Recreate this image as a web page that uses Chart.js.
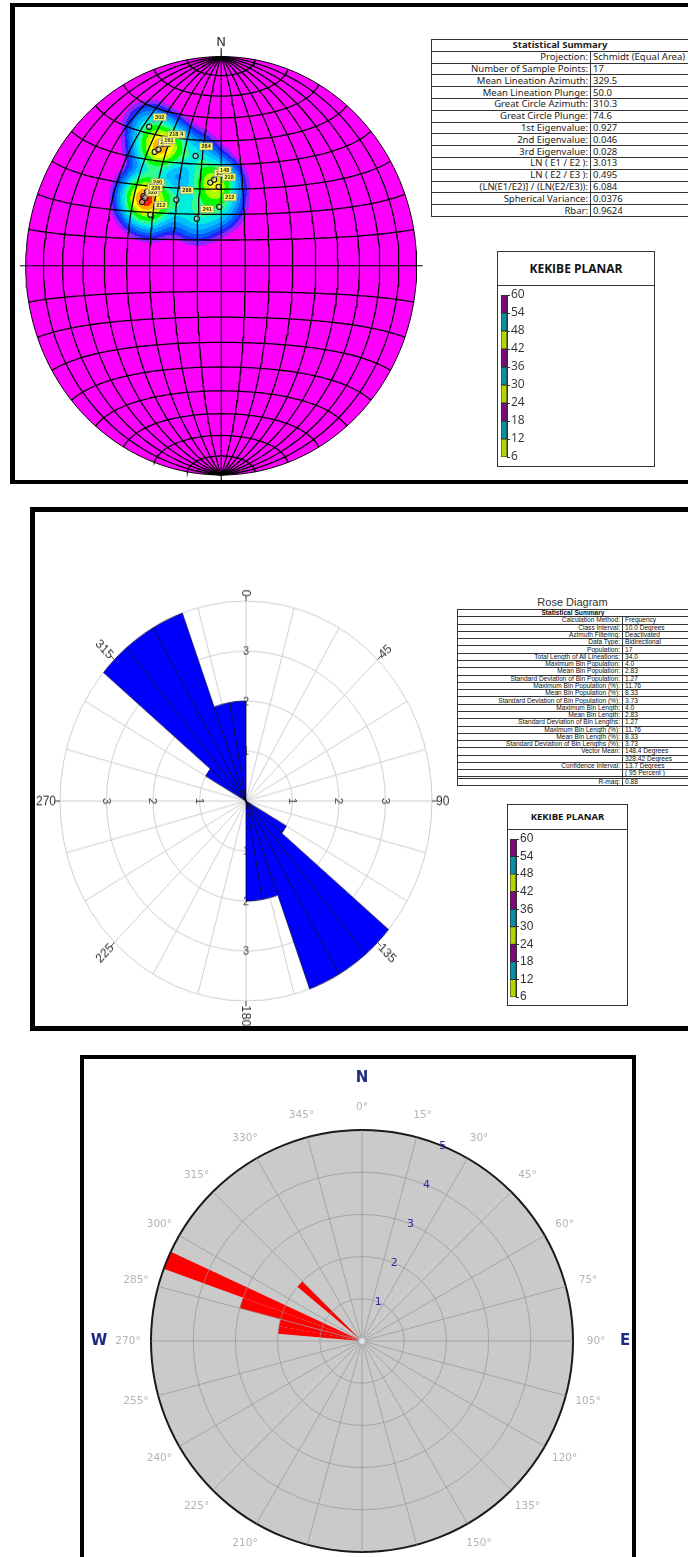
<!DOCTYPE html>
<html lang="en">
<head>
<meta charset="utf-8">
<title>KEKIBE PLANAR – orientation analysis</title>
<script src="https://cdn.jsdelivr.net/npm/chart.js@4.4.1/dist/chart.umd.min.js"></script>
<style>
  html, body { margin: 0; padding: 0; background: #fff; }
  body { position: relative; width: 688px; height: 1557px; overflow: hidden;
         font-family: "Liberation Sans", Arial, sans-serif; color: #222; }
  .frame { position: absolute; box-sizing: border-box; border: solid #000; }
  canvas { position: absolute; display: block; }
  table.stats { position: absolute; border-collapse: collapse; table-layout: fixed; background: #fff; }
  table.stats td { border: 1px solid #333; padding: 0 2px; white-space: nowrap; overflow: hidden; }
  table.stats td.k { text-align: right; }
  table.stats td.v { text-align: left; }
  table.stats tr.h td { text-align: center; font-weight: bold; }
  .legend { position: absolute; border: 1px solid #333; box-sizing: border-box; background: #fff; }
  .legend .ttl { border-bottom: 1px solid #333; text-align: center; font-weight: bold; box-sizing: border-box;
                 font-family: "Open Sans", "Noto Sans", sans-serif; color: #111; }
  .caption { position: absolute; text-align: center; }
</style>
</head>
<body>
<div class="frame" style="left:10px;top:3px;width:700px;height:481px;border-width:4px 0 4px 5px;"></div>
<div class="frame" style="left:30px;top:507px;width:680px;height:524px;border-width:5px 0 5px 5px;"></div>
<div class="frame" style="left:80px;top:1055px;width:556px;height:520px;border-width:4px 4px 0 4px;"></div>

<table id="netSummary" class="stats" style="left:431px;top:39px;width:258px;height:178px;font-family:'Noto Sans','Open Sans',sans-serif;font-size:9.5px;line-height:10px;"></table>
<div class="legend" style="left:497px;top:251px;width:158px;height:216px;">
  <div class="ttl" style="height:34px;line-height:33px;font-size:12px;">KEKIBE PLANAR</div>
</div>
<canvas id="stereonet" width="414" height="449" style="left:16px;top:36px;"></canvas>
<canvas id="barTop" width="31" height="180" style="left:500px;top:286px;"></canvas>

<div class="caption" style="left:457px;top:596px;width:231px;font-size:11px;line-height:13px;color:#333;">Rose Diagram</div>
<table id="roseSummary" class="stats" style="left:457px;top:609px;width:232px;height:177px;font-size:6.6px;line-height:6px;color:#111;"></table>
<div class="legend" style="left:507px;top:804px;width:121px;height:202px;">
  <div class="ttl" style="height:25px;line-height:24px;font-size:9.5px;">KEKIBE PLANAR</div>
</div>
<canvas id="roseMid" width="460" height="460" style="left:16px;top:571px;transform:scaleY(1.075);transform-origin:230px 230px;"></canvas>
<canvas id="barMid" width="31" height="176" style="left:509px;top:830px;"></canvas>

<canvas id="roseBot" width="580" height="580" style="left:72px;top:1051px;"></canvas>

<script>
// ---------------- Schmidt net: lineations (trend / plunge in degrees) ----------------
const sampleTrend  = [331, 328, 335, 330, 346, 313, 310, 307, 310, 304, 324, 331, 352, 355, 358, 358, 333];
const samplePlunge = [ 25,  36,  36,  36,  45,  47,  47,  48,  48,  54,  58,  69,  57,  56,  59,  67,  35];
const sampleTags   = ['302','226','324','161','284','240','212','228','226','212','288','241','222','148','218','212','218'];

const netSummaryKeys = ['Projection:', 'Number of Sample Points:', 'Mean Lineation Azimuth:', 'Mean Lineation Plunge:',
  'Great Circle Azimuth:', 'Great Circle Plunge:', '1st Eigenvalue:', '2nd Eigenvalue:', '3rd Eigenvalue:',
  'LN ( E1 / E2 ):', 'LN ( E2 / E3 ):', '(LN(E1/E2)] / (LN(E2/E3)):', 'Spherical Variance:', 'Rbar:'];
const netSummaryVals = ['Schmidt (Equal Area)', '17', '329.5', '50.0', '310.3', '74.6', '0.927', '0.046', '0.028',
  '3.013', '0.495', '6.084', '0.0376', '0.9624'];

// contour classes of the point density and their fills
const densityLevels = [0.16, 0.28, 0.42, 0.6, 0.85, 1.15, 1.5, 1.9, 2.5, 3.0, 3.5, 4.0];
const densityFills  = ['#8c28ff', '#2424ff', '#005cff', '#0090ff', '#00c0ff', '#00eee0',
                       '#30ff90', '#00ff00', '#a8ff00', '#ffff00', '#ffb000', '#ff2000'];

// ---------------- legend scale ----------------
const legendLevels = [6, 12, 18, 24, 30, 36, 42, 48, 54, 60];
const legendFills  = ['#b4d600', '#0b8fa4', '#7c0a7c', '#b4d600', '#0b8fa4', '#7c0a7c', '#b4d600', '#0b8fa4', '#7c0a7c'];

// ---------------- rose diagram: 10° classes, bidirectional frequency ----------------
const roseClassCounts = [0, 0, 0, 0, 0, 0, 0, 0, 0, 0, 0, 0,
                         1, 4, 4, 4, 2, 2, 0, 0, 0, 0, 0, 0,
                         0, 0, 0, 0, 0, 0, 1, 4, 4, 4, 2, 2];
const roseRingTicks  = [1, 2, 3];
const roseAxisLabels = ['0', '45', '90', '135', '180', '225', '270', '315'];
const roseSummaryKeys = ['Calculation Method:', 'Class Interval:', 'Azimuth Filtering:', 'Data Type:', 'Population:',
  'Total Length of All Lineations:', 'Maximum Bin Population:', 'Mean Bin Population:',
  'Standard Deviation of Bin Population:', 'Maximum Bin Population (%):', 'Mean Bin Population (%):',
  'Standard Deviation of Bin Population (%):', 'Maximum Bin Length:', 'Mean Bin Length:',
  'Standard Deviation of Bin Lengths:', 'Maximum Bin Length (%):', 'Mean Bin Length (%):',
  'Standard Deviation of Bin Lengths (%):', 'Vector Mean:', '', 'Confidence Interval:', '', '', 'R-mag:'];
const roseSummaryVals = ['Frequency', '10.0 Degrees', 'Deactivated', 'Bidirectional', '17', '34.0', '4.0', '2.83',
  '1.27', '11.76', '8.33', '3.73', '4.0', '2.83', '1.27', '11.76', '8.33', '3.73', '148.4 Degrees',
  '328.42 Degrees', '13.7 Degrees', '( 95 Percent )', '', '0.88'];

// ---------------- direction rose: 5° classes ----------------
const dirCounts = [0, 0, 0, 0, 0, 0, 0, 0, 0, 0, 0, 0,
                   0, 0, 0, 0, 0, 0, 0, 0, 0, 0, 0, 0,
                   0, 0, 0, 0, 0, 0, 0, 0, 0, 0, 0, 0,
                   0, 0, 0, 0, 0, 0, 0, 0, 0, 0, 0, 0,
                   0, 0, 0, 0, 0, 0, 0, 2, 2, 3, 5, 0,
                   0, 0, 2, 0, 0, 0, 0, 0, 0, 0, 0, 0];
const dirRingTicks = [1, 2, 3, 4, 5];
const dirCardinals = ['N', 'E', 'S', 'W'];

// ====================================================================
const D2R = Math.PI / 180;

function fillTable(id, title, keys, vals, keyWidth) {
  const t = document.getElementById(id);
  let html = `<colgroup><col style="width:${keyWidth}px"><col></colgroup>`;
  html += `<tr class="h"><td colspan="2">${title}</td></tr>`;
  keys.forEach((k, i) => { html += `<tr><td class="k">${k}</td><td class="v">${vals[i]}</td></tr>`; });
  t.innerHTML = html;
}
fillTable('netSummary', 'Statistical Summary', netSummaryKeys, netSummaryVals, 159);
fillTable('roseSummary', 'Statistical Summary', roseSummaryKeys, roseSummaryVals, 165);

// lower-hemisphere equal-area projection of a unit vector (x east, y north, z down)
function projectVec(vx, vy, vz) {
  const r = Math.sqrt(Math.max(0, 1 - vz));
  const h = Math.hypot(vx, vy);
  return h < 1e-9 ? {x: 0, y: 0} : {x: r * vx / h, y: r * vy / h};
}
function projectLineation(trend, plunge) {
  const t = trend * D2R, p = plunge * D2R;
  return projectVec(Math.cos(p) * Math.sin(t), Math.cos(p) * Math.cos(t), Math.sin(p));
}
const netPoints = sampleTrend.map((t, i) => projectLineation(t, samplePlunge[i]));

// net graticule: great circles through N and S, small circles about the N-S axis
const netLines = [];
for (let phi = -80; phi <= 80; phi += 10) {
  if (phi === 0) continue;
  const pts = [];
  for (let t = -90; t <= 90; t += 2) {
    const c = Math.cos(t * D2R);
    pts.push(projectVec(c * Math.sin(phi * D2R), Math.sin(t * D2R), c * Math.cos(phi * D2R)));
  }
  netLines.push(pts);
}
for (let th = 10; th <= 170; th += 10) {
  if (th === 90) continue;
  const pts = [];
  for (let u = 0; u <= 180; u += 2) {
    const s = Math.sin(th * D2R);
    pts.push(projectVec(s * Math.cos(u * D2R), Math.cos(th * D2R), s * Math.sin(u * D2R)));
  }
  netLines.push(pts);
}
const primitive = [];
for (let a = 0; a <= 360; a += 2) primitive.push({x: Math.sin(a * D2R), y: Math.cos(a * D2R)});

const lineDs = (data, width) => ({type: 'scatter', data, showLine: true, pointRadius: 0, borderColor: '#000',
  borderWidth: width, fill: false, clip: false});

const densityPlugin = {
  id: 'density',
  beforeDatasetsDraw(chart) {
    const {ctx, chartArea: a, scales: {x, y}} = chart;
    const cx = x.getPixelForValue(0), cy = y.getPixelForValue(0);
    const rx = x.getPixelForValue(1) - cx, ry = cy - y.getPixelForValue(1);
    ctx.save();
    ctx.beginPath();
    ctx.ellipse(cx, cy, rx, ry, 0, 0, Math.PI * 2);
    ctx.fillStyle = '#ff00ff';
    ctx.fill();
    const pts = netPoints.map(p => [x.getPixelForValue(p.x), y.getPixelForValue(p.y)]);
    const x0 = Math.floor(a.left), y0 = Math.floor(a.top);
    const w = Math.ceil(a.right - x0), h = Math.ceil(a.bottom - y0);
    const off = document.createElement('canvas');
    off.width = w; off.height = h;
    const octx = off.getContext('2d');
    const img = octx.createImageData(w, h);
    const rgb = densityFills.map(c => [parseInt(c.substr(1, 2), 16), parseInt(c.substr(3, 2), 16), parseInt(c.substr(5, 2), 16)]);
    const sigma = 14, s2 = 2 * sigma * sigma;
    for (let j = 0; j < h; j++) {
      for (let i = 0; i < w; i++) {
        const px = x0 + i + 0.5, py = y0 + j + 0.5;
        const ex = (px - cx) / rx, ey = (py - cy) / ry;
        if (ex * ex + ey * ey > 1) continue;
        let d = 0;
        for (const q of pts) { const dx = px - q[0], dy = py - q[1]; d += Math.exp(-(dx * dx + dy * dy) / s2); }
        let band = -1;
        for (let k = 0; k < densityLevels.length; k++) if (d >= densityLevels[k]) band = k;
        if (band < 0) continue;
        const o = (j * w + i) * 4;
        img.data[o] = rgb[band][0]; img.data[o + 1] = rgb[band][1]; img.data[o + 2] = rgb[band][2]; img.data[o + 3] = 255;
      }
    }
    octx.putImageData(img, 0, 0);
    ctx.drawImage(off, x0, y0);
    ctx.restore();
  },
  afterDatasetsDraw(chart) {
    const {ctx, scales: {x, y}} = chart;
    ctx.save();
    ctx.font = "bold 5.5px 'Liberation Sans', Arial";
    ctx.textAlign = 'center';
    ctx.textBaseline = 'middle';
    netPoints.forEach((p, i) => {
      const px = x.getPixelForValue(p.x), py = y.getPixelForValue(p.y);
      const bx = px + 4, by = py - 13;
      ctx.strokeStyle = '#8a8a8a'; ctx.lineWidth = 0.8;
      ctx.beginPath(); ctx.moveTo(px + 1, py - 2); ctx.lineTo(bx + 2, by + 7); ctx.stroke();
      ctx.fillStyle = '#ffff5a';
      ctx.fillRect(bx, by, 13, 7);
      ctx.strokeStyle = '#a0a0a0'; ctx.strokeRect(bx, by, 13, 7);
      ctx.fillStyle = '#222';
      ctx.fillText(sampleTags[i], bx + 6.5, by + 3.8);
    });
    ctx.restore();
  },
  afterDraw(chart) {
    const {ctx, scales: {x, y}} = chart;
    ctx.save();
    ctx.font = "13px 'DejaVu Sans', sans-serif";
    ctx.fillStyle = '#333';
    ctx.textAlign = 'center';
    ctx.textBaseline = 'middle';
    ctx.fillText('N', x.getPixelForValue(0), y.getPixelForValue(1) - 14);
    ctx.restore();
  }
};

new Chart(document.getElementById('stereonet'), {
  type: 'scatter',
  data: {
    datasets: [
      {data: netPoints, pointRadius: 2.6, pointBorderColor: '#111', pointBackgroundColor: 'rgba(210,210,210,0.6)',
       pointBorderWidth: 1.1, showLine: false},
      lineDs([{x: -1.03, y: 0}, {x: 1.03, y: 0}], 1.1),
      lineDs([{x: 0, y: 1.04}, {x: 0, y: -1.04}], 1.1),
      lineDs(primitive, 1),
      ...netLines.map(l => lineDs(l, 1.3))
    ]
  },
  options: {
    responsive: false, animation: false, events: [],
    layout: {padding: {left: 9.7, right: 13.3, top: 20.6, bottom: 10}},
    scales: {x: {type: 'linear', min: -1, max: 1, display: false},
             y: {type: 'linear', min: -1, max: 1, display: false}},
    plugins: {legend: {display: false}, tooltip: {enabled: false}}
  },
  plugins: [densityPlugin]
});

// ---------------- legend colour bars ----------------
function makeColorBar(id, font) {
  new Chart(document.getElementById(id), {
    type: 'bar',
    data: {
      labels: [''],
      datasets: legendFills.map((c, i) => ({
        data: [[legendLevels[i], legendLevels[i + 1]]], backgroundColor: c, borderColor: '#2a2a2a',
        borderWidth: 0.8, borderSkipped: false, grouped: false, barPercentage: 1, categoryPercentage: 1
      }))
    },
    options: {
      responsive: false, animation: false, events: [],
      layout: {padding: {left: 1, right: 0, top: 9, bottom: 9}},
      plugins: {legend: {display: false}, tooltip: {enabled: false}},
      scales: {
        x: {display: false},
        y: {position: 'right', min: 6, max: 60,
            ticks: {stepSize: 6, padding: 1, color: '#333', font: font},
            grid: {drawOnChartArea: false, tickLength: 3, color: '#333'},
            border: {color: '#333'},
            afterFit: s => { s.width = 24; }}
      }
    }
  });
}
makeColorBar('barTop', {size: 12, family: "'Open Sans', 'Noto Sans', sans-serif"});
makeColorBar('barMid', {size: 12, family: "'Liberation Sans Narrow', 'Liberation Sans', sans-serif"});

// ---------------- rose diagram (10° classes, 15° spokes) ----------------
const spokeLabels72 = Array.from({length: 72}, (_, i) => i * 5);

const roseMidDecor = {
  id: 'roseMidDecor',
  beforeDatasetsDraw(chart) {
    const r = chart.scales.r, ctx = chart.ctx;
    ctx.save();
    ctx.font = "11px 'Liberation Sans', Arial";
    ctx.fillStyle = '#444';
    ctx.textAlign = 'center';
    ctx.textBaseline = 'middle';
    for (const az of [0, 90, 180, 270]) {
      const a = az * D2R;
      for (const v of roseRingTicks) {
        const d = r.getDistanceFromCenterForValue(v);
        ctx.save();
        ctx.translate(r.xCenter + d * Math.sin(a), r.yCenter - d * Math.cos(a));
        ctx.rotate((az % 180) * D2R);
        ctx.fillText(String(v), 0, 0.5);
        ctx.restore();
      }
    }
    ctx.restore();
  },
  afterDraw(chart) {
    const r = chart.scales.r, ctx = chart.ctx, R = r.drawingArea;
    ctx.save();
    ctx.font = "12px 'Liberation Sans', Arial";
    ctx.fillStyle = '#333';
    ctx.strokeStyle = '#444';
    ctx.lineWidth = 1;
    ctx.textAlign = 'center';
    ctx.textBaseline = 'middle';
    roseAxisLabels.forEach((txt, k) => {
      const az = k * 45, a = az * D2R, sx = Math.sin(a), sy = -Math.cos(a);
      ctx.beginPath();
      ctx.moveTo(r.xCenter + R * sx, r.yCenter + R * sy);
      ctx.lineTo(r.xCenter + (R + 5) * sx, r.yCenter + (R + 5) * sy);
      ctx.stroke();
      const w = ctx.measureText(txt).width, d = R + 4 + w / 2;
      let rot = az - 90;
      while (rot <= -90) rot += 180;
      while (rot > 90) rot -= 180;
      ctx.save();
      ctx.translate(r.xCenter + d * sx, r.yCenter + d * sy);
      ctx.rotate(rot * D2R);
      ctx.fillText(txt, 0, 0.5);
      ctx.restore();
    });
    ctx.restore();
  }
};

new Chart(document.getElementById('roseMid'), {
  type: 'polarArea',
  data: {labels: spokeLabels72,
         datasets: [{data: roseClassCounts, backgroundColor: '#0000ff', borderColor: 'rgba(0,0,30,0.9)', borderWidth: 0.7}]},
  options: {
    responsive: false, animation: false, events: [],
    layout: {padding: 44},
    plugins: {legend: {display: false}, tooltip: {enabled: false}},
    scales: {r: {min: 0, max: 4,
      ticks: {display: false, stepSize: 1},
      grid: {circular: true, color: '#cfcfcf', lineWidth: 1},
      angleLines: {display: true, color: '#cfcfcf', lineWidth: c => (c.index % 3 === 0 ? 1 : 0)},
      pointLabels: {display: false}}}
  },
  plugins: [roseMidDecor]
});

// ---------------- direction rose (5° classes) ----------------
const roseBotDecor = {
  id: 'roseBotDecor',
  beforeDatasetsDraw(chart) {
    const r = chart.scales.r, ctx = chart.ctx;
    ctx.save();
    ctx.beginPath();
    ctx.arc(r.xCenter, r.yCenter, r.drawingArea, 0, Math.PI * 2);
    ctx.fillStyle = '#cacaca';
    ctx.fill();
    ctx.restore();
  },
  afterDraw(chart) {
    const r = chart.scales.r, ctx = chart.ctx, R = r.drawingArea;
    ctx.save();
    ctx.textAlign = 'center';
    ctx.textBaseline = 'middle';
    // centre hub
    ctx.beginPath(); ctx.arc(r.xCenter, r.yCenter, 3.5, 0, Math.PI * 2);
    ctx.fillStyle = '#e2e2e2'; ctx.fill(); ctx.strokeStyle = '#aaa'; ctx.lineWidth = 0.8; ctx.stroke();
    // bearing labels every 15°
    ctx.font = "10.5px 'DejaVu Sans', sans-serif";
    ctx.fillStyle = '#b4b4b4';
    for (let az = 0; az < 360; az += 15) {
      const a = az * D2R;
      ctx.fillText(az + '°', r.xCenter + (R + 23) * Math.sin(a), r.yCenter - (R + 23) * Math.cos(a));
    }
    // cardinal points
    ctx.font = "bold 15px 'DejaVu Sans', sans-serif";
    ctx.fillStyle = '#1f2b80';
    dirCardinals.forEach((c, k) => {
      const a = k * 90 * D2R;
      ctx.fillText(c, r.xCenter + (R + 52) * Math.sin(a), r.yCenter - (R + 52) * Math.cos(a));
    });
    // ring values along 22.5°
    ctx.font = "11px 'DejaVu Sans', sans-serif";
    ctx.fillStyle = '#2a2a9c';
    const a = 22.5 * D2R;
    dirRingTicks.forEach(v => {
      const d = r.getDistanceFromCenterForValue(v);
      ctx.fillText(String(v), r.xCenter + d * Math.sin(a), r.yCenter - d * Math.cos(a));
    });
    ctx.restore();
  }
};

new Chart(document.getElementById('roseBot'), {
  type: 'polarArea',
  data: {labels: spokeLabels72, datasets: [{data: dirCounts, backgroundColor: '#ff0000', borderWidth: 0}]},
  options: {
    responsive: false, animation: false, events: [],
    layout: {padding: 79},
    plugins: {legend: {display: false}, tooltip: {enabled: false}},
    scales: {r: {min: 0, max: 5,
      ticks: {display: false, stepSize: 1},
      grid: {circular: true, z: 1,
             color: c => (c.tick && c.tick.value === 5 ? '#1a1a1a' : 'rgba(150,150,150,0.7)'),
             lineWidth: c => (c.tick && c.tick.value === 5 ? 2 : 1)},
      angleLines: {display: true, color: 'rgba(150,150,150,0.7)', lineWidth: c => (c.index % 3 === 0 ? 1 : 0)},
      pointLabels: {display: false}}}
  },
  plugins: [roseBotDecor]
});
</script>
</body>
</html>
